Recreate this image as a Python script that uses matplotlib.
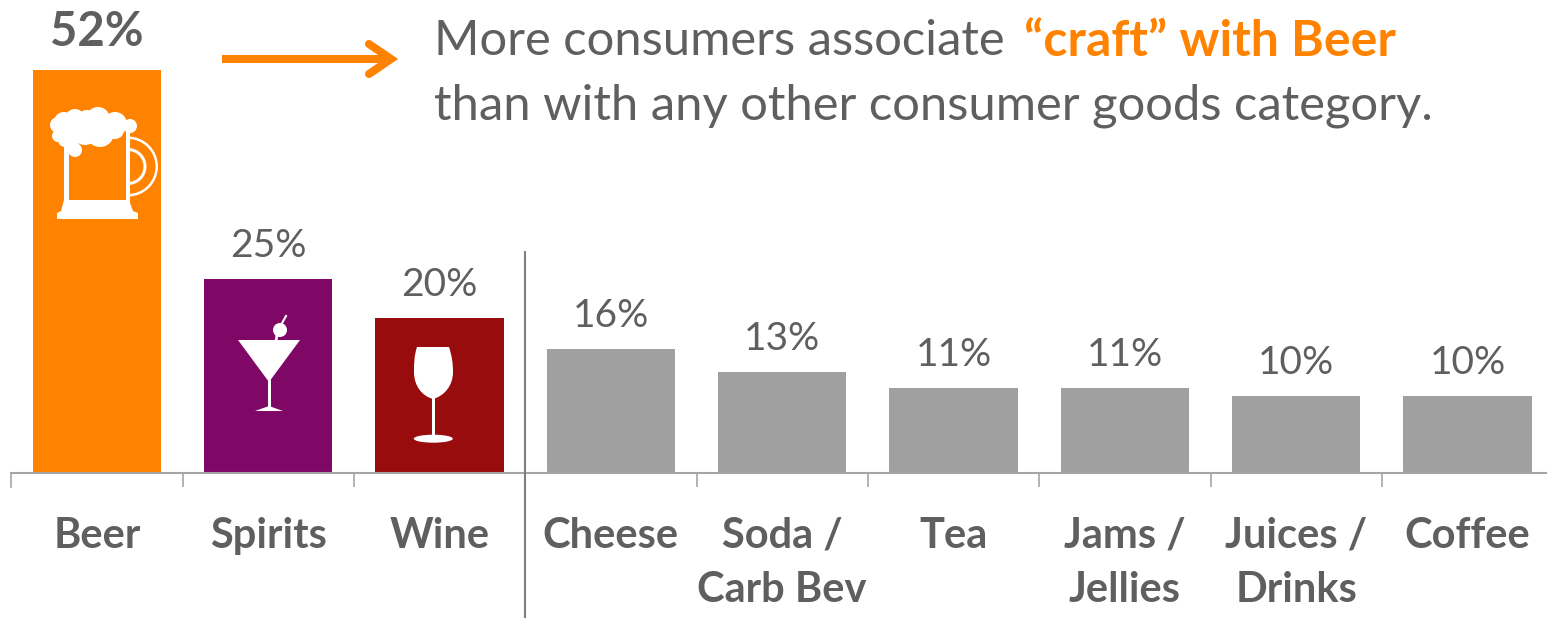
import numpy as np
import matplotlib.pyplot as plt
from matplotlib.patches import Polygon, Circle, Ellipse, Rectangle, Wedge, PathPatch
from matplotlib.path import Path

categories = ["Beer", "Spirits", "Wine", "Cheese", "Soda /\nCarb Bev", "Tea", "Jams /\nJellies", "Juices /\nDrinks", "Coffee"]
values = [52, 25, 20, 16, 13, 11, 11, 10, 10]
bar_colors = ["#FF8200", "#7F0766", "#990C0E", "#A0A0A0", "#A0A0A0", "#A0A0A0", "#A0A0A0", "#A0A0A0", "#A0A0A0"]

W, H = 1547, 618
GREY = "#5F5F5F"
ORANGE = "#FF8200"
WHITE = "white"
plt.rcParams['font.family'] = ['Lato', 'DejaVu Sans']

fig = plt.figure(figsize=(W / 100, H / 100), dpi=100)

# 9 slots of 171.3 px, the last one runs past the right edge
ax = fig.add_axes([11.2 / W, (H - 473) / H, 1542 / W, 403 / H])
x = np.arange(len(categories))
ax.bar(x, values, width=0.75, color=bar_colors, zorder=2)
ax.set_xlim(-0.5, 8.5)
ax.set_ylim(0, 52)
ax.patch.set_visible(False)
for s in ["top", "left", "right"]:
    ax.spines[s].set_visible(False)
ax.spines["bottom"].set_color("#A6A6A6")
ax.spines["bottom"].set_linewidth(1.5)
ax.set_yticks([])
ax.set_xticks(x[:-1] + 0.5)
ax.set_xticklabels([])
ax.tick_params(axis="x", length=10, width=1.2, color="#A6A6A6")

for i, (v, c) in enumerate(zip(values, categories)):
    bold = i == 0
    ax.annotate(f"{v}%", (i, v), xytext=(0, 16 if bold else 15), textcoords="offset pixels",
                ha="center", va="bottom", color=GREY,
                fontsize=34 if bold else 28, fontweight="bold" if bold else "normal")
    ax.annotate(c, (i, 0), xytext=(0, -44), textcoords="offset pixels", ha="center", va="top",
                color=GREY, fontsize=30, fontweight="bold", linespacing=1.5)

# overlay in pixel coordinates for the arrow, divider, headline and glyphs
ov = fig.add_axes([0, 0, 1, 1])
ov.set_xlim(0, W)
ov.set_ylim(H, 0)
ov.axis("off")
ov.patch.set_visible(False)

ov.plot([525, 525], [252, 618], color="#7F7F7F", lw=1.5)
ov.plot([11, 11], [473, 487], color="#A6A6A6", lw=1.2)

# headline arrow
ov.plot([222, 387], [59, 59], color=ORANGE, lw=5.8, solid_capstyle="butt")
ov.plot([369, 391, 369], [44, 59, 74], color=ORANGE, lw=5.8, solid_capstyle="round", solid_joinstyle="miter")

ov.text(434, 41, "More consumers associate", color=GREY, fontsize=35.3, va="center", ha="left")
ov.text(1024, 41, "\u201ccraft\u201d with Beer", color=ORANGE, fontsize=36, fontweight="bold", va="center", ha="left")
ov.text(434, 106, "than with any other consumer goods category.", color=GREY, fontsize=35.3, va="center", ha="left")


def beer_mug():
    # handle
    ov.add_patch(Wedge((128, 166.5), 30, -90, 90, width=2.5, color=WHITE, lw=0))
    ov.add_patch(Wedge((128, 166.5), 18.5, -90, 90, width=3, color=WHITE, lw=0))
    # glass walls and base
    ov.add_patch(Rectangle((64, 145), 5, 60, color=WHITE, lw=0))
    ov.add_patch(Rectangle((126, 130), 4, 75, color=WHITE, lw=0))
    ov.add_patch(Polygon([(64, 200), (129, 200), (133, 211), (138, 213), (138, 219),
                          (57, 219), (57, 213), (61, 211)], color=WHITE, lw=0))
    # foam built from overlapping blobs
    foam = [(58, 125, 8), (58, 136, 6), (64, 122, 10), (75, 119, 10), (87, 120, 10), (98, 119, 12),
            (115, 124, 12), (130, 126, 7), (75, 150, 7), (70, 135, 12), (85, 132, 13), (100, 133, 14),
            (115, 130, 9), (65, 140, 7)]
    for cx, cy, r in foam:
        ov.add_patch(Circle((cx, cy), r, color=WHITE, lw=0))


def martini():
    ov.add_patch(Polygon([(238, 340), (300, 340), (269, 382)], color=WHITE, lw=0))
    ov.add_patch(Rectangle((267.5, 380), 3, 28, color=WHITE, lw=0))
    ov.add_patch(Polygon([(255, 411), (269, 406), (283, 411)], color=WHITE, lw=0))
    ov.add_patch(Circle((280, 330), 7, color=WHITE, lw=0))
    ov.plot([281, 286], [325, 316], color=WHITE, lw=1.5)
    ov.plot([277, 276], [335, 341], color=WHITE, lw=2)


def wine_glass():
    verts = [(417, 347), (449, 347),
             (452, 356), (453, 364), (453, 372),
             (453, 386), (444, 396), (433, 399),
             (422, 396), (414, 386), (414, 372),
             (414, 364), (414, 356), (417, 347),
             (417, 347)]
    codes = [Path.MOVETO, Path.LINETO] + [Path.CURVE4] * 12 + [Path.CLOSEPOLY]
    ov.add_patch(PathPatch(Path(verts, codes), color=WHITE, lw=0))
    ov.add_patch(Rectangle((432, 397), 3, 40, color=WHITE, lw=0))
    ov.add_patch(Ellipse((433.3, 438.7), 39, 8, color=WHITE, lw=0))


beer_mug()
martini()
wine_glass()

fig.savefig("out.png", dpi=100)
